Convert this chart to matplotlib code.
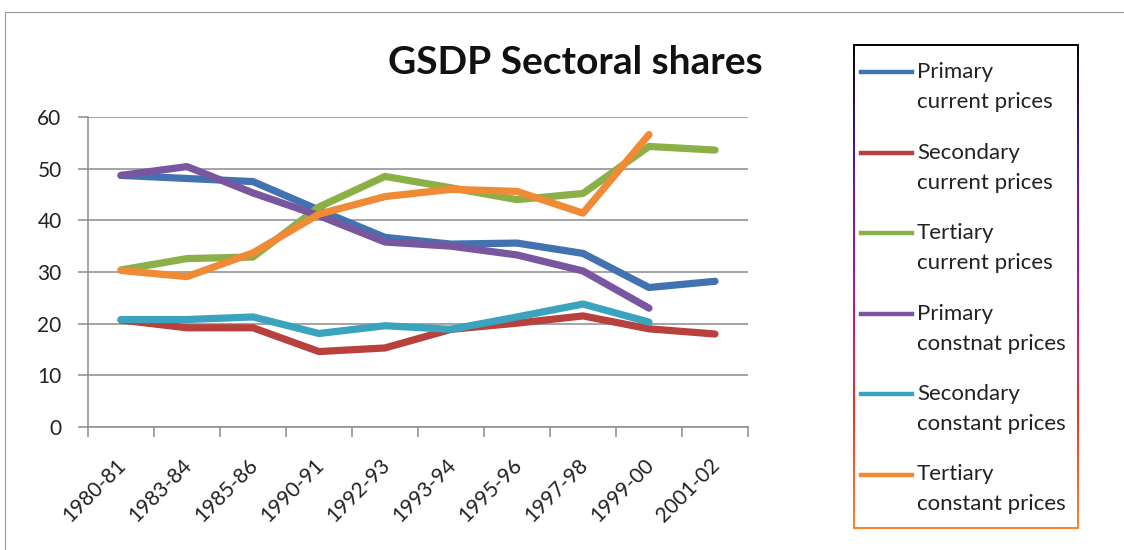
import numpy as np
import matplotlib
matplotlib.use("Agg")
import matplotlib.pyplot as plt
import matplotlib.transforms as mtrans
from matplotlib.collections import LineCollection
from matplotlib.patches import Rectangle

plt.rcParams['font.family'] = ['Lato', 'DejaVu Sans']

years = ["1980-81", "1983-84", "1985-86", "1990-91", "1992-93",
         "1993-94", "1995-96", "1997-98", "1999-00", "2001-02"]

primary_cur = [48.7, 48.1, 47.5, 42.0, 36.7, 35.4, 35.6, 33.6, 27.0, 28.2]
secondary_cur = [20.7, 19.2, 19.2, 14.6, 15.3, 18.9, 20.1, 21.5, 19.0, 18.0]
tertiary_cur = [30.4, 32.6, 32.9, 42.6, 48.5, 46.3, 44.0, 45.2, 54.3, 53.6]
primary_const = [48.7, 50.4, 45.3, 40.9, 35.8, 35.0, 33.3, 30.2, 23.0]
secondary_const = [20.8, 20.8, 21.3, 18.1, 19.6, 18.9, 21.3, 23.8, 20.3]
tertiary_const = [30.3, 29.1, 33.7, 41.2, 44.6, 46.0, 45.6, 41.4, 56.6]

series = [
    ("Primary\ncurrent prices", primary_cur, "#4273b0"),
    ("Secondary\ncurrent prices", secondary_cur, "#b8403d"),
    ("Tertiary\ncurrent prices", tertiary_cur, "#8bb047"),
    ("Primary\nconstnat prices", primary_const, "#7856a0"),
    ("Secondary\nconstant prices", secondary_const, "#3aa3bd"),
    ("Tertiary\nconstant prices", tertiary_const, "#f08a35"),
]

W, H = 1124, 550
fig = plt.figure(figsize=(W / 100, H / 100), dpi=100)

# outer chart border
fig.patches.append(Rectangle((5 / W, -0.1), 1.2, 1 - 12 / H + 0.1,
                             transform=fig.transFigure, fill=False,
                             edgecolor="#9a9a9a", linewidth=0.8))

ax = fig.add_axes([88 / W, 1 - 427 / H, 660 / W, 310 / H])

x = np.arange(len(years))
for label, vals, col in series:
    ax.plot(x[:len(vals)], vals, color=col, linewidth=5.2,
            solid_capstyle="round", solid_joinstyle="round", label=label)

ax.set_xlim(-0.5, len(years) - 0.5)
ax.set_ylim(0, 60)
ax.set_yticks(range(0, 61, 10))
ax.yaxis.grid(True, color="#8c8c8c", linewidth=1.1)
ax.set_axisbelow(True)

ax.set_xticks(x)
ax.set_xticklabels(years, rotation=45, ha="right", rotation_mode="anchor")
ax.set_xticks(np.arange(-0.5, len(years)), minor=True)
ax.tick_params(axis="x", which="major", length=0, pad=20, labelsize=15,
               labelcolor="#222222")
ax.tick_params(axis="x", which="minor", length=7, color="#8c8c8c", width=1.1)
ax.tick_params(axis="y", length=7, color="#8c8c8c", width=1.1, labelsize=15,
               labelcolor="#222222", pad=12)
# nudge the rotated year labels left, as in the original
shift = mtrans.ScaledTranslation(-5 / 100, 0, fig.dpi_scale_trans)
for t in ax.get_xticklabels():
    t.set_transform(t.get_transform() + shift)

for s in ["top", "right"]:
    ax.spines[s].set_visible(False)
for s in ["left", "bottom"]:
    ax.spines[s].set_color("#8c8c8c")
    ax.spines[s].set_linewidth(1.1)

fig.text(575 / W, 1 - 62 / H, "GSDP Sectoral shares", ha="center",
         va="center", fontsize=28, fontweight="bold", color="#111111")

# legend box with gradient frame
x0, x1 = 854 / W, 1078 / W
y0, y1 = 1 - 528 / H, 1 - 45 / H
cmap = matplotlib.colors.LinearSegmentedColormap.from_list(
    "frame", ["#000000", "#5a10a0", "#b01090", "#ff2020", "#ff8020"])
n = 100
ys = np.linspace(y1, y0, n + 1)
for xe in (x0, x1):
    segs = [[(xe, ys[i]), (xe, ys[i + 1])] for i in range(n)]
    lc = LineCollection(segs, colors=cmap(np.linspace(0, 1, n)),
                        linewidth=1.4, transform=fig.transFigure)
    fig.add_artist(lc)
fig.add_artist(plt.Line2D([x0, x1], [y1, y1], color="#000000", linewidth=1.4,
                          transform=fig.transFigure))
fig.add_artist(plt.Line2D([x0, x1], [y0, y0], color="#ff8020", linewidth=1.4,
                          transform=fig.transFigure))

# legend entries: handle aligned with first text line
for i, (label, vals, col) in enumerate(series):
    yc = 1 - (72 + 80.5 * i) / H
    fig.add_artist(plt.Line2D([861 / W, 912 / W], [yc, yc], color=col,
                              linewidth=3.2, transform=fig.transFigure))
    first, second = label.split("\n")
    fig.text(917 / W, yc, first, ha="left", va="center", fontsize=16,
             color="#222222")
    fig.text(917 / W, yc - 30 / H, second, ha="left", va="center",
             fontsize=16, color="#222222")

fig.savefig("out.png", dpi=100)
